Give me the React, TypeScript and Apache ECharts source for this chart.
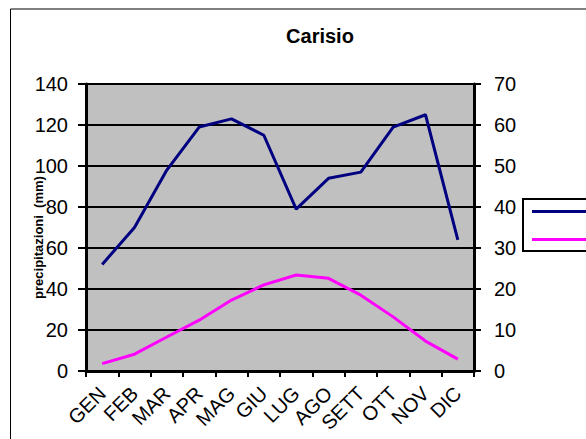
import React, { useEffect, useRef } from "react";
import * as echarts from "echarts";

// Monthly climate data for Carisio
const months = ["GEN", "FEB", "MAR", "APR", "MAG", "GIU", "LUG", "AGO", "SETT", "OTT", "NOV", "DIC"];
const precipitazioni = [52, 70, 98, 119, 123, 115, 79, 94, 97, 119, 125, 64];
const temperature = [1.8, 4.1, 8.3, 12.4, 17.3, 21, 23.4, 22.6, 18.5, 13.2, 7.3, 2.9];
const seriesNames = ["precipitazioni (mm)", "temperatura (°C)"];

const FONT = "'Liberation Sans', Arial, sans-serif";

export default function App() {
  const ref = useRef<HTMLDivElement>(null);

  useEffect(() => {
    if (!ref.current) return;
    const chart = echarts.init(ref.current, undefined, { renderer: "svg" });
    chart.setOption({
      animation: false,
      backgroundColor: "#ffffff",
      textStyle: { fontFamily: FONT, color: "#000" },
      title: {
        text: "Carisio",
        left: 315,
        top: 21,
        textAlign: "center",
        textStyle: { fontFamily: FONT, fontSize: 20, fontWeight: "bold", color: "#000" },
      },
      graphic: [
        {
          type: "rect",
          shape: { x: 10.5, y: 9, width: 700, height: 600 },
          style: { fill: "none", stroke: "#000", lineWidth: 1 },
          silent: true,
          z: -10,
        },
      ],
      // legend box runs past the right edge; its labels lie beyond the frame
      legend: {
        orient: "vertical",
        left: 523,
        top: 199,
        padding: [11, 10, 10, 9],
        itemGap: 25,
        itemWidth: 70,
        itemHeight: 3,
        icon: "rect",
        borderColor: "#000",
        borderWidth: 2,
        formatter: () => "",
        textStyle: { fontFamily: FONT, fontSize: 13, color: "#000" },
        data: seriesNames,
      },
      grid: {
        left: 86,
        top: 84,
        width: 388,
        height: 287,
        show: true,
        backgroundColor: "#c0c0c0",
        borderColor: "#808080",
        borderWidth: 1,
      },
      xAxis: {
        type: "category",
        data: months,
        boundaryGap: true,
        axisLine: { lineStyle: { color: "#000", width: 3 } },
        axisTick: { show: true, length: 6, lineStyle: { color: "#000", width: 2 } },
        axisLabel: {
          rotate: 45,
          margin: 19,
          fontSize: 20,
          fontFamily: FONT,
          color: "#000",
          interval: 0,
        },
      },
      yAxis: [
        {
          type: "value",
          min: 0,
          max: 140,
          interval: 20,
          name: "precipitazioni  (mm)",
          nameLocation: "middle",
          nameGap: 41,
          nameMoveOverlap: false,
          nameTextStyle: {
            fontFamily: FONT,
            fontSize: 13,
            fontWeight: "bold",
            color: "#000",
            padding: [0, 20, 0, 0],
          },
          axisLine: { show: true, lineStyle: { color: "#000", width: 3 } },
          axisTick: { show: true, length: 8, lineStyle: { color: "#000", width: 2 } },
          axisLabel: { margin: 18, fontSize: 20, fontFamily: FONT, color: "#000" },
          splitLine: { show: true, lineStyle: { color: "#000", width: 2 } },
        },
        {
          type: "value",
          min: 0,
          max: 70,
          interval: 10,
          position: "right",
          axisLine: { show: true, lineStyle: { color: "#000", width: 3 } },
          axisTick: { show: true, length: 7, lineStyle: { color: "#000", width: 2 } },
          axisLabel: { margin: 20, fontSize: 20, fontFamily: FONT, color: "#000" },
          splitLine: { show: false },
        },
      ],
      series: [
        {
          name: seriesNames[0],
          type: "line",
          yAxisIndex: 0,
          data: precipitazioni,
          symbol: "none",
          color: "#000080",
          lineStyle: { color: "#000080", width: 3 },
        },
        {
          name: seriesNames[1],
          type: "line",
          yAxisIndex: 1,
          data: temperature,
          symbol: "none",
          color: "#ff00ff",
          lineStyle: { color: "#ff00ff", width: 3 },
        },
      ],
    });
    return () => chart.dispose();
  }, []);

  return (
    <div
      ref={ref}
      style={{ position: "fixed", left: 0, top: 0, width: 586, height: 439 }}
    />
  );
}
